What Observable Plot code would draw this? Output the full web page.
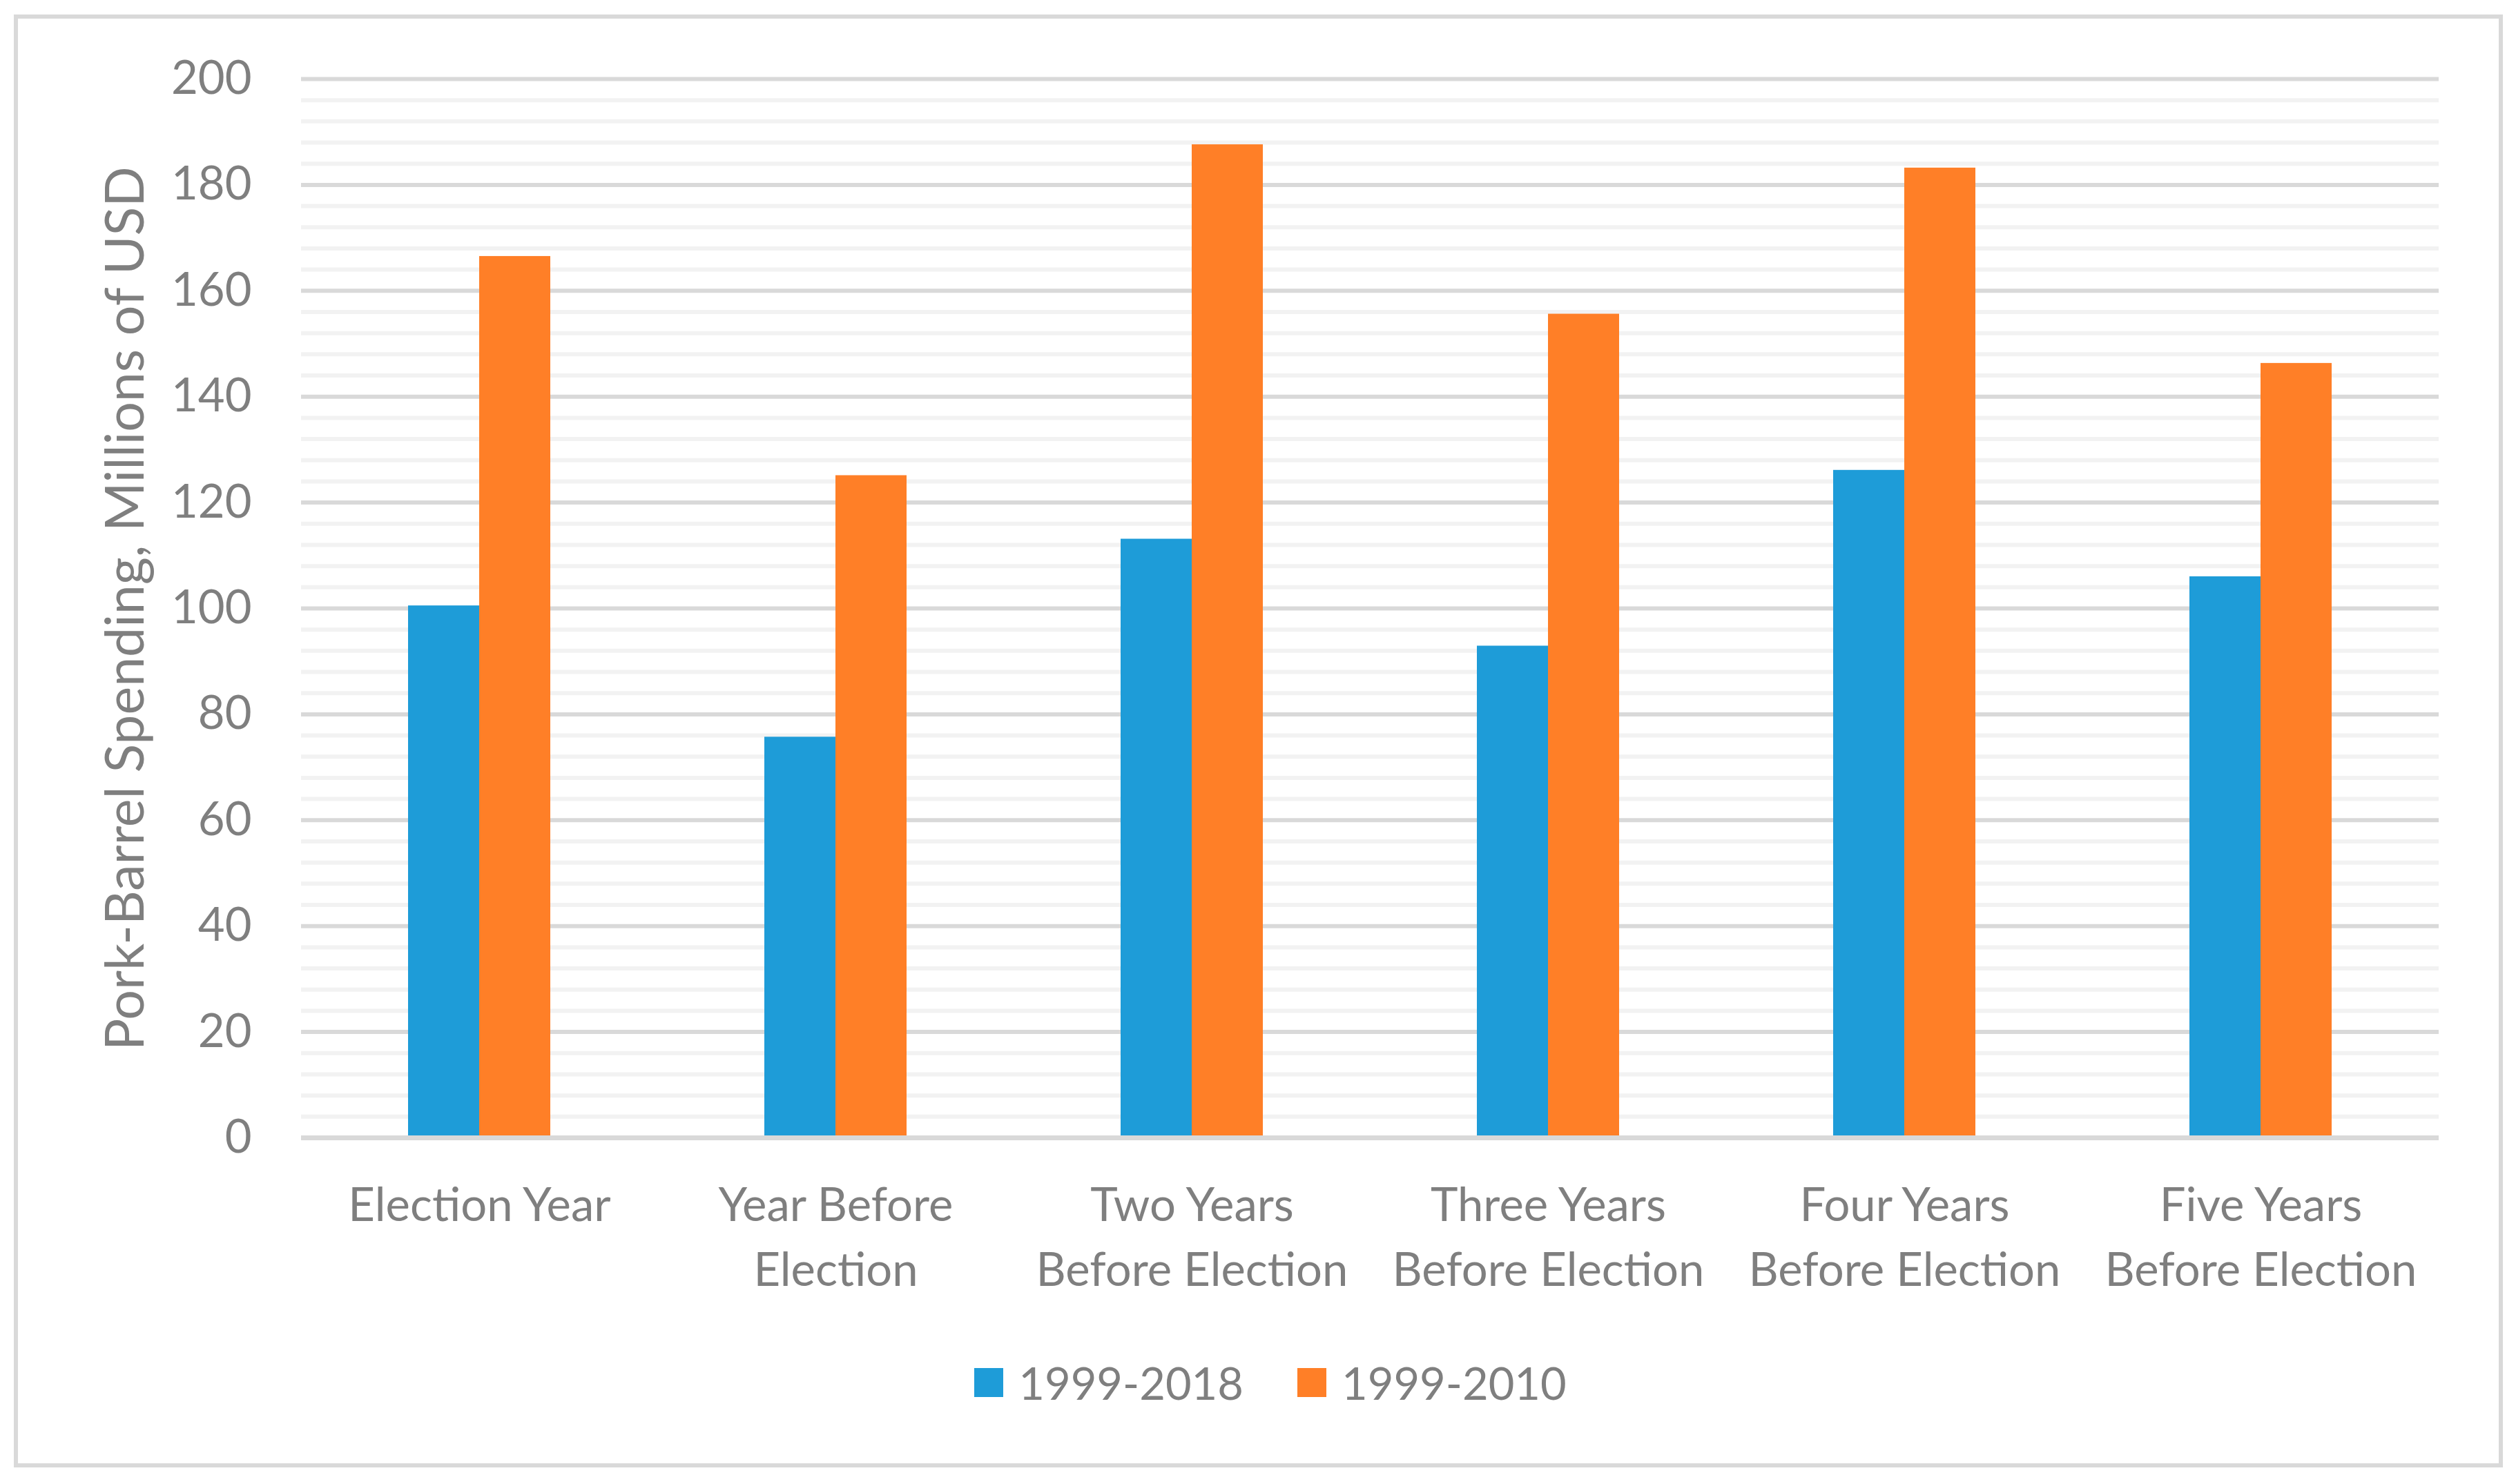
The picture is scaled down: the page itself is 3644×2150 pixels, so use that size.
<!DOCTYPE html>
<html>
<head>
<meta charset="utf-8">
<script src="https://cdn.jsdelivr.net/npm/d3@7"></script>
<script src="https://cdn.jsdelivr.net/npm/@observablehq/plot@0.6"></script>
<style>
  html, body { margin: 0; padding: 0; background: #fff; }
  body { width: 3644px; height: 2150px; position: relative; overflow: hidden; font-family: Lato, sans-serif; }
  #frame { position: absolute; left: 20px; top: 21px; width: 3605px; height: 2105px; border: 6px solid #d9d9d9; box-sizing: border-box; }
  #chart { position: absolute; left: 0; top: 0; }
  #legend { position: absolute; left: 0; top: 1963px; width: 3644px; height: 80px; display: flex; justify-content: center; align-items: center; padding-left: 36px; box-sizing: border-box; color: #7f7f7f; font-size: 65px; line-height: 1; }
  .item { display: flex; align-items: center; margin: 0 39px; }
  .sw { width: 42px; height: 42px; margin-right: 22px; }
</style>
</head>
<body>
<div id="frame"></div>
<div id="chart"></div>
<div id="legend"></div>
<script>
const categories = ["Election Year", "Year Before Election", "Two Years Before Election", "Three Years Before Election", "Four Years Before Election", "Five Years Before Election"];
const tickLabels = ["Election Year", "Year Before\nElection", "Two Years\nBefore Election", "Three Years\nBefore Election", "Four Years\nBefore Election", "Five Years\nBefore Election"];
const seriesNames = ["1999-2018", "1999-2010"];
const values2018 = [100.5, 75.7, 113.1, 92.9, 126.1, 106.0];
const values2010 = [166.5, 125.1, 187.6, 155.6, 183.2, 146.3];
const colors = ["#1e9cd8", "#ff7f27"];
const yTicks = [0, 20, 40, 60, 80, 100, 120, 140, 160, 180, 200];
const yMinor = d3.range(0, 201, 4).filter(v => v % 20 !== 0);
const yLabel = "Pork-Barrel Spending, Millions of USD";

const rows = categories.flatMap((c, i) => [
  {category: c, series: seriesNames[0], value: values2018[i]},
  {category: c, series: seriesNames[1], value: values2010[i]}
]);
const labelOf = new Map(categories.map((c, i) => [c, tickLabels[i]]));

const chart = Plot.plot({
  width: 3644,
  height: 1900,
  marginLeft: 436,
  marginRight: 112,
  marginTop: 114,
  marginBottom: 252,
  style: {fontFamily: "Lato, sans-serif", fontSize: "67px", color: "#7f7f7f", background: "transparent"},
  fx: {domain: categories, paddingInner: 0, paddingOuter: 0, label: null},
  x: {domain: seriesNames, paddingInner: 0, paddingOuter: 1.493, axis: null},
  y: {domain: [0, 200], label: null},
  color: {domain: seriesNames, range: colors},
  marks: [
    Plot.ruleY(yMinor, {stroke: "#f2f2f2", strokeWidth: 6}),
    Plot.ruleY(yTicks.filter(v => v > 0), {stroke: "#d9d9d9", strokeWidth: 6}),
    Plot.barY(rows, {fx: "category", x: "series", y: "value", fill: "series"}),
    Plot.ruleY([0], {stroke: "#d9d9d9", strokeWidth: 7}),
    Plot.axisY({ticks: yTicks, tickSize: 0, tickPadding: 72, fontSize: 67, color: "#7f7f7f",
      label: yLabel, labelAnchor: "center", labelArrow: "none", labelOffset: 283}),
    Plot.axisFx({anchor: "bottom", tickSize: 0, tickPadding: 54, fontSize: 67, color: "#7f7f7f", lineHeight: 1.4,
      tickFormat: d => labelOf.get(d), label: null})
  ]
});
document.getElementById("chart").appendChild(chart);

// enlarge the y-axis title slightly
chart.querySelectorAll("text").forEach(t => {
  if (t.textContent === yLabel) t.setAttribute("font-size", "77");
});

const legend = document.getElementById("legend");
seriesNames.forEach((s, i) => {
  const item = document.createElement("div");
  item.className = "item";
  const sw = document.createElement("div");
  sw.className = "sw";
  sw.style.background = colors[i];
  const lab = document.createElement("span");
  lab.textContent = s;
  item.appendChild(sw);
  item.appendChild(lab);
  legend.appendChild(item);
});
</script>
</body>
</html>
